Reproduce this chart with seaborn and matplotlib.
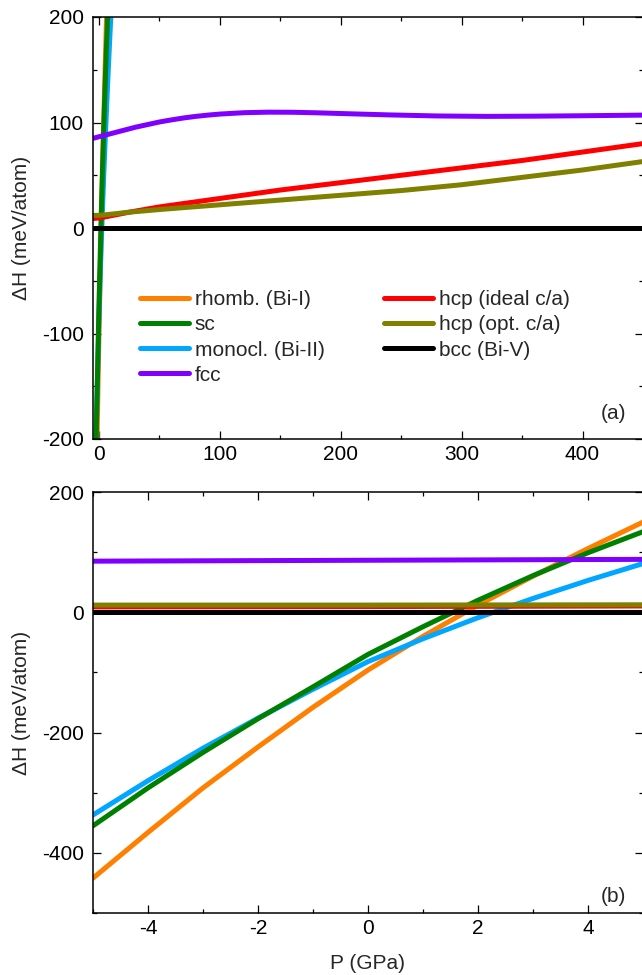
import numpy as np
import pandas as pd
import matplotlib
matplotlib.use("Agg")
import matplotlib.pyplot as plt
from matplotlib.ticker import MultipleLocator
from matplotlib.lines import Line2D
import seaborn as sns

# Enthalpy differences relative to bcc (Bi-V), meV/atom, vs pressure (GPa)
p_low = [-5, -4, -3, -2, -1, 0, 1, 2, 3, 4, 5, 6, 7, 8, 9, 10, 11, 12]
h_rhomb = [-442, -366, -292, -224, -158, -96, -40, 12, 60, 106, 150, 192, 232, 270, 306, 340, 372, 402]
h_sc = [-355, -292, -233, -177, -124, -70, -24, 20, 61, 99, 134, 167, 198, 227, 254, 280, 305, 329]
h_monocl = [-337, -280, -226, -176, -128, -82, -44, -9, 23, 53, 81, 108, 134, 159, 183, 206, 228, 249]

p_fcc = [-5, 0, 10, 20, 30, 40, 50, 60, 70, 80, 90, 100, 120, 140, 160, 180,
         200, 240, 280, 320, 360, 400, 450]
h_fcc = [85, 86.5, 89.5, 92.5, 95.5, 98, 100.5, 102.5, 104.3, 105.8, 107, 108,
         109.3, 109.8, 109.7, 109.2, 108.5, 107.2, 106.2, 105.8, 106, 106.4, 107]

p_hcp = [-5, 0, 5, 25, 50, 100, 150, 200, 250, 300, 350, 400, 450]
h_hcp_ideal = [9, 9.5, 10.5, 15, 20, 28, 36, 43, 50, 57, 64, 72, 80]
h_hcp_opt = [12, 12, 12.5, 15, 17.5, 22, 26.5, 31, 35.5, 41, 48, 55, 63]

p_bcc = [-5, 450]
h_bcc = [0, 0]

labels = ["rhomb. (Bi-I)", "sc", "monocl. (Bi-II)", "fcc",
          "hcp (ideal c/a)", "hcp (opt. c/a)", "bcc (Bi-V)"]
colors = ["#FF8000", "#008000", "#00A6FF", "#8000FF", "#FF0000", "#808000", "#000000"]

series = {
    labels[0]: (p_low, h_rhomb),
    labels[1]: (p_low, h_sc),
    labels[2]: (p_low, h_monocl),
    labels[3]: (p_fcc, h_fcc),
    labels[4]: (p_hcp, h_hcp_ideal),
    labels[5]: (p_hcp, h_hcp_opt),
    labels[6]: (p_bcc, h_bcc),
}
frames = {k: pd.DataFrame({"P": v[0], "dH": v[1]}) for k, v in series.items()}
palette = dict(zip(labels, colors))
draw_order = [labels[0], labels[2], labels[1], labels[3], labels[4], labels[5], labels[6]]

sns.set_theme(style="ticks")
plt.rcParams["font.family"] = ["Liberation Sans", "DejaVu Sans"]
plt.rcParams["font.size"] = 15
plt.rcParams["axes.linewidth"] = 1.1
plt.rcParams["axes.unicode_minus"] = False

FS = 15
W, H = 642, 975
fig = plt.figure(figsize=(W / 100, H / 100), dpi=100)
ax1 = fig.add_axes([93 / W, 1 - 439 / H, 550 / W, 422 / H])
ax2 = fig.add_axes([93 / W, 1 - 913 / H, 550 / W, 421 / H])

lw = 3.6
for ax in (ax1, ax2):
    for name in draw_order:
        sns.lineplot(data=frames[name], x="P", y="dH", ax=ax, color=palette[name],
                     linewidth=lw, label=name, legend=False, sort=False,
                     estimator=None)
    ax.tick_params(which="both", direction="in", top=True, right=True,
                   labelsize=FS, width=0.9, colors="black")
    ax.tick_params(which="major", length=5.5)
    ax.tick_params(which="minor", length=3)
    ax.tick_params(axis="y", pad=6.5)
    ax.tick_params(axis="x", pad=4.5)
    for s in ax.spines.values():
        s.set_color("black")
    ax.set_ylabel("\u0394H (meV/atom)", fontsize=FS)
    ax.yaxis.set_label_coords(-0.112, 0.5)

# panel (a): wide pressure range
ax1.set_xlim(-5, 450)
ax1.set_ylim(-200, 200)
ax1.xaxis.set_major_locator(MultipleLocator(100))
ax1.xaxis.set_minor_locator(MultipleLocator(50))
ax1.yaxis.set_major_locator(MultipleLocator(100))
ax1.yaxis.set_minor_locator(MultipleLocator(50))
ax1.set_xlabel("")
ax1.text(0.947, 0.0616, "(a)", transform=ax1.transAxes, ha="center", va="center", fontsize=FS)

leg_handles = [Line2D([], [], color=palette[n], linewidth=lw, solid_capstyle="round") for n in labels]
ax1.legend(leg_handles, labels, loc="upper left", bbox_to_anchor=(0.0855, 0.352),
           ncol=2, frameon=False, fontsize=FS, borderpad=0, borderaxespad=0,
           handlelength=2.35, handletextpad=0.28, columnspacing=2.85, labelspacing=0.29)

# panel (b): low pressure detail
ax2.set_xlim(-5, 5)
ax2.set_ylim(-500, 200)
ax2.xaxis.set_major_locator(MultipleLocator(2))
ax2.xaxis.set_minor_locator(MultipleLocator(1))
ax2.yaxis.set_major_locator(MultipleLocator(200))
ax2.yaxis.set_minor_locator(MultipleLocator(100))
ax2.set_xlabel("P (GPa)", fontsize=FS)
ax2.xaxis.set_label_coords(0.5, -0.097)
ax2.text(0.947, 0.039, "(b)", transform=ax2.transAxes, ha="center", va="center", fontsize=FS)

fig.savefig("out.png", dpi=100)
